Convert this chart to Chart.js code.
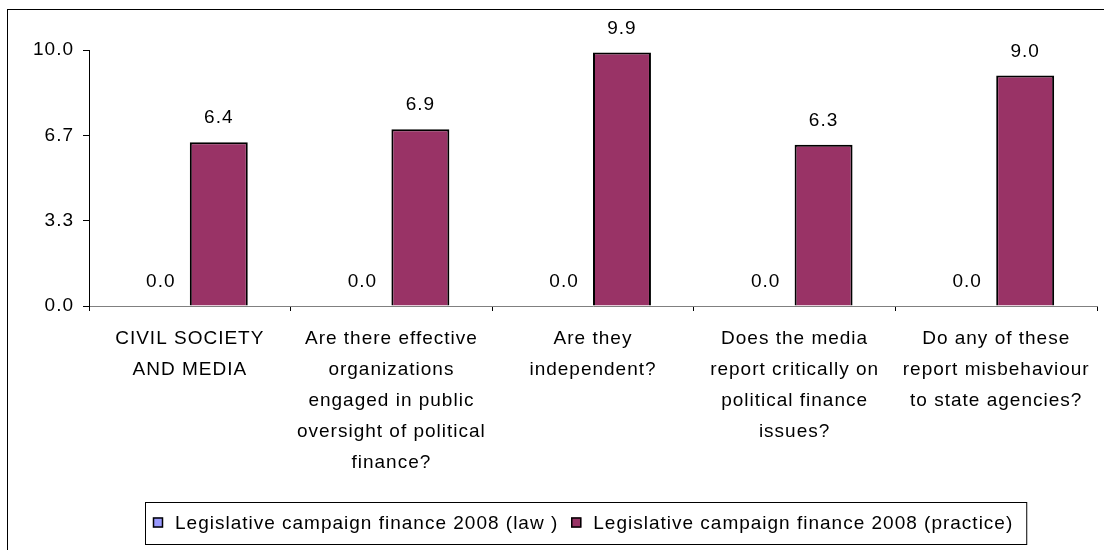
<!DOCTYPE html>
<html>
<head>
<meta charset="utf-8">
<script src="https://cdn.jsdelivr.net/npm/chart.js@4"></script>
<style>
  html, body { margin: 0; padding: 0; background: #fff; overflow: hidden; }
  #wrap { position: relative; width: 1104px; height: 550px; }
</style>
</head>
<body>
<div id="wrap"><canvas id="financeChart"></canvas></div>
<script>
const categories = [
    ["CIVIL SOCIETY", "AND MEDIA"],
    ["Are there effective", "organizations", "engaged in public", "oversight of political", "finance?"],
    ["Are they", "independent?"],
    ["Does the media", "report critically on", "political finance", "issues?"],
    ["Do any of these", "report misbehaviour", "to state agencies?"]
];
const lawValues = [0, 0, 0, 0, 0];
const practiceValues = [6.4, 6.9, 9.9, 6.3, 9.0];
const yTickValues = [0, 10 / 3, 20 / 3, 10];
const seriesNames = ["Legislative campaign finance 2008 (law )", "Legislative campaign finance 2008 (practice)"];

const FONT = "'Liberation Sans', Arial, sans-serif";
const SPACING = "1px";

// frame, letter spacing, value labels and the boxed legend
const excelLook = {
    id: 'excelLook',
    beforeUpdate(chart) { chart.ctx.letterSpacing = SPACING; },
    beforeDraw(chart) {
        const ctx = chart.ctx;
        ctx.letterSpacing = SPACING;
        ctx.save();
        ctx.fillStyle = '#fff';
        ctx.fillRect(0, 0, chart.width, chart.height);
        ctx.strokeStyle = '#000';
        ctx.lineWidth = 1;
        ctx.strokeRect(7.5, 9.5, chart.width + 20, chart.height + 20);
        ctx.restore();
    },
    afterDatasetsDraw(chart) {
        const ctx = chart.ctx;
        ctx.save();
        ctx.font = "19px " + FONT;
        ctx.fillStyle = '#000';
        ctx.textAlign = 'center';
        ctx.textBaseline = 'alphabetic';
        chart.data.datasets.forEach((ds, i) => {
            chart.getDatasetMeta(i).data.forEach((bar, j) => {
                ctx.fillText(ds.data[j].toFixed(1), bar.x, bar.y - 19);
            });
        });
        ctx.restore();
    },
    afterDraw(chart) {
        const ctx = chart.ctx;
        ctx.save();
        ctx.font = "19px " + FONT;
        ctx.textBaseline = 'middle';
        ctx.textAlign = 'left';
        const left = 145, top = 502, bottom = 544, midY = 522.5;
        let x = left + 8;
        chart.data.datasets.forEach((ds, i) => {
            ctx.fillStyle = ds.backgroundColor;
            ctx.fillRect(x, midY - 5, 10, 10);
            ctx.strokeStyle = '#000';
            ctx.lineWidth = 1.5;
            ctx.strokeRect(x + 0.5, midY - 5 + 0.5, 9, 9);
            x += 22;
            ctx.fillStyle = '#000';
            ctx.fillText(ds.label, x, midY + 1);
            x += ctx.measureText(ds.label).width + 13;
        });
        ctx.lineWidth = 1;
        ctx.strokeStyle = '#000';
        ctx.strokeRect(left + 0.5, top + 0.5, x - left, bottom - top);
        ctx.restore();
    }
};

new Chart(document.getElementById('financeChart'), {
    type: 'bar',
    data: {
        labels: categories,
        datasets: [{
            label: seriesNames[0],
            data: lawValues,
            backgroundColor: '#9999FF',
            borderColor: '#000',
            borderWidth: 2
        }, {
            label: seriesNames[1],
            data: practiceValues,
            backgroundColor: '#993366',
            borderColor: '#000',
            borderWidth: 2
        }]
    },
    options: {
        responsive: true,
        maintainAspectRatio: false,
        animation: false,
        categoryPercentage: 0.575,
        barPercentage: 1,
        layout: { padding: { top: 50, right: 7, left: 0, bottom: 0 } },
        plugins: {
            legend: { display: false },
            tooltip: { enabled: false }
        },
        scales: {
            x: {
                afterFit(scale) { scale.height = 244; },
                border: { color: '#808080', width: 1 },
                grid: { offset: true, drawOnChartArea: false, drawTicks: true, tickLength: 5, color: '#000' },
                ticks: {
                    color: '#000',
                    maxRotation: 0,
                    autoSkip: false,
                    padding: 12,
                    font: { family: FONT, size: 19, lineHeight: 31 / 19 }
                }
            },
            y: {
                min: 0,
                max: 10,
                afterFit(scale) { scale.width = 89; },
                afterBuildTicks(scale) { scale.ticks = yTickValues.map(v => ({ value: v })); },
                border: { color: '#000', width: 1 },
                grid: { drawOnChartArea: false, drawTicks: true, tickLength: 6, color: '#000' },
                ticks: {
                    color: '#000',
                    padding: 9,
                    font: { family: FONT, size: 19 },
                    callback: v => v.toFixed(1)
                }
            }
        }
    },
    plugins: [excelLook]
});
</script>
</body>
</html>
